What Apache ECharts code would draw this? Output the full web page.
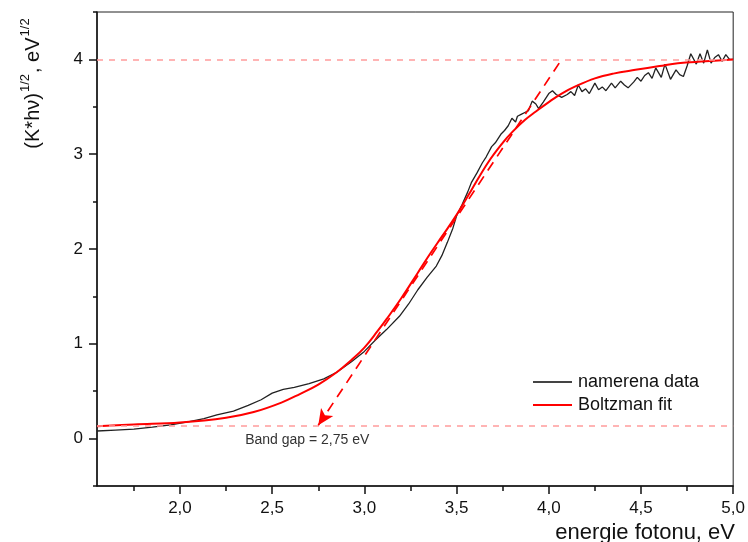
<!DOCTYPE html>
<html><head><meta charset="utf-8">
<script src="https://cdn.jsdelivr.net/npm/echarts@6/dist/echarts.min.js"></script>
<style>html,body{margin:0;padding:0;background:#fff}#c{width:748px;height:542px}</style>
</head><body><div id="c"></div>
<script>
const dataX = [1.55,1.65,1.75,1.85,1.95,2.05,2.13,2.2,2.29,2.37,2.44,2.5,2.56,2.62,2.7,2.78,2.85,2.93,3.0,3.06,3.12,3.19,3.24,3.29,3.34,3.39,3.42,3.45,3.48,3.5,3.53,3.56,3.58,3.61,3.64,3.66,3.69,3.71,3.74,3.76,3.78,3.8,3.82,3.83,3.85,3.87,3.89,3.91,3.93,3.945,3.97,4.0,4.02,4.04,4.07,4.1,4.12,4.14,4.16,4.18,4.2,4.22,4.25,4.27,4.29,4.31,4.34,4.36,4.39,4.41,4.43,4.46,4.48,4.5,4.52,4.54,4.56,4.58,4.61,4.63,4.66,4.69,4.71,4.73,4.75,4.77,4.8,4.82,4.84,4.86,4.88,4.9,4.92,4.94,4.96,4.98,5.0];
const dataY = [0.08,0.09,0.10,0.12,0.145,0.18,0.21,0.25,0.29,0.35,0.41,0.48,0.52,0.54,0.58,0.63,0.70,0.81,0.92,1.04,1.15,1.29,1.42,1.57,1.70,1.82,1.93,2.07,2.22,2.35,2.47,2.60,2.70,2.80,2.91,2.97,3.08,3.12,3.21,3.25,3.30,3.38,3.34,3.40,3.42,3.44,3.46,3.56,3.53,3.48,3.55,3.64,3.67,3.63,3.60,3.63,3.66,3.62,3.73,3.66,3.69,3.64,3.75,3.68,3.71,3.67,3.75,3.70,3.77,3.73,3.70,3.76,3.81,3.77,3.83,3.86,3.80,3.91,3.81,3.95,3.79,3.89,3.84,3.82,3.93,4.06,3.95,4.06,3.96,4.10,3.96,4.02,4.05,3.98,4.05,4.00,4.00];
const fitX = [1.55,1.75,2.0,2.25,2.4,2.55,2.65,2.75,2.85,2.93,3.0,3.07,3.12,3.2,3.29,3.36,3.42,3.5,3.58,3.67,3.75,3.8,3.87,3.93,4.0,4.07,4.15,4.25,4.35,4.47,4.6,4.7,4.85,5.0];
const fitY = [0.13,0.15,0.17,0.22,0.28,0.38,0.47,0.57,0.70,0.83,0.96,1.13,1.26,1.48,1.75,1.96,2.13,2.36,2.62,2.91,3.12,3.23,3.36,3.45,3.55,3.64,3.72,3.80,3.85,3.89,3.93,3.96,3.98,4.00];
const xTicks = [2.0,2.5,3.0,3.5,4.0,4.5,5.0];
const xMinorTicks = [1.75,2.25,2.75,3.25,3.75,4.25,4.75];
const yTicks = [0,1,2,3,4];
const yMinorTicks = [-0.5,0.5,1.5,2.5,3.5,4.5];
const plateauLevel = 4.0;
const baseLevel = 0.14;
const tangentX = [2.75, 4.07];
const tangentY = [0.14, 4.0];
const bandGapLabel = 'Band gap = 2,75 eV';
const bandGapLabelPos = [2.69, -0.02];

const FF = '"Liberation Sans", Arial, sans-serif';
const chart = echarts.init(document.getElementById('c'), null, {renderer: 'canvas'});
const pinkDash = {color: '#ff9c9c', type: [6, 6], width: 1.5};
const redDash = {color: '#ff0000', type: [10, 7], width: 1.7};
const xBase = {type: 'value', min: 1.55, max: 5.0, splitLine: {show: false}};
const yBase = {type: 'value', min: -0.5, max: 4.5, splitLine: {show: false}};
chart.setOption({
  animation: false,
  backgroundColor: '#fff',
  grid: {left: 97, right: 14, top: 12, bottom: 56, show: true, borderColor: '#222', borderWidth: 1, backgroundColor: 'transparent'},
  xAxis: [
    Object.assign({}, xBase, {position: 'bottom',
      axisLine: {show: true, onZero: false, lineStyle: {color: '#111', width: 1.5}},
      axisTick: {show: true, customValues: xTicks, length: 8, lineStyle: {color: '#111', width: 1.5}},
      axisLabel: {customValues: xTicks, fontSize: 17, color: '#111', fontFamily: FF, margin: 14,
        formatter: v => v.toFixed(1).replace('.', ',')}}),
    Object.assign({}, xBase, {position: 'bottom',
      axisLine: {show: false, onZero: false},
      axisTick: {show: true, customValues: xMinorTicks, length: 5, lineStyle: {color: '#111', width: 1.5}},
      axisLabel: {show: false}})
  ],
  yAxis: [
    Object.assign({}, yBase, {position: 'left',
      axisLine: {show: true, onZero: false, lineStyle: {color: '#111', width: 1.5}},
      axisTick: {show: true, customValues: yTicks, length: 8, lineStyle: {color: '#111', width: 1.5}},
      axisLabel: {customValues: yTicks, fontSize: 17, color: '#111', fontFamily: FF, margin: 14,
        formatter: v => String(v)}}),
    Object.assign({}, yBase, {position: 'left',
      axisLine: {show: false, onZero: false},
      axisTick: {show: true, customValues: yMinorTicks, length: 4, lineStyle: {color: '#111', width: 1.5}},
      axisLabel: {show: false}})
  ],
  legend: {
    orient: 'vertical', left: 533, top: 373, padding: 0, itemWidth: 39, itemHeight: 2, itemGap: 5,
    icon: 'rect',
    textStyle: {fontSize: 18, lineHeight: 18, color: '#111', fontFamily: FF, padding: [0, 0, 0, 1]},
    data: ['namerena data', 'Boltzman fit']
  },
  series: [
    {name: 'namerena data', type: 'line', xAxisIndex: 0, yAxisIndex: 0,
     data: dataX.map((x, i) => [x, dataY[i]]), symbol: 'none', smooth: false,
     lineStyle: {color: '#222', width: 1.3}, itemStyle: {color: '#444'}, z: 2},
    {name: 'Boltzman fit', type: 'line', xAxisIndex: 0, yAxisIndex: 0,
     data: fitX.map((x, i) => [x, fitY[i]]), symbol: 'none', smooth: 0.4,
     lineStyle: {color: '#ff0000', width: 2}, itemStyle: {color: '#ff0000'}, z: 3,
     markLine: {silent: true, symbol: 'none', label: {show: false}, animation: false,
       data: [
         {yAxis: plateauLevel, lineStyle: pinkDash},
         {yAxis: baseLevel, lineStyle: pinkDash},
         [{coord: [tangentX[0], tangentY[0]], symbol: 'arrow', symbolSize: [11, 16], lineStyle: redDash, itemStyle: {color: '#ff0000'}},
          {coord: [tangentX[1], tangentY[1]], symbol: 'none', lineStyle: redDash}]
       ]}}
  ]
});
const p = chart.convertToPixel({xAxisIndex: 0, yAxisIndex: 0}, bandGapLabelPos);
chart.setOption({
  graphic: [
    {type: 'text', x: p[0], y: p[1], silent: true,
     style: {text: bandGapLabel, fontSize: 14, fill: '#333', fontFamily: FF, align: 'center', verticalAlign: 'middle'}},
    {type: 'text', x: 31, y: 83, rotation: Math.PI / 2, silent: true,
     style: {text: '{a|(K*hν)}{s|1/2}{a|, eV}{s|1/2}', align: 'center', verticalAlign: 'middle',
       rich: {a: {fontSize: 20, fontFamily: FF, fill: '#111', lineHeight: 24, verticalAlign: 'bottom'},
              s: {fontSize: 13, fontFamily: FF, fill: '#111', lineHeight: 24, verticalAlign: 'top', padding: [0, 1, 0, 1]}}}},
    {type: 'text', x: 735, y: 544, silent: true,
     style: {text: 'energie fotonu, eV', fontSize: 22, fill: '#111', fontFamily: FF, align: 'right', verticalAlign: 'bottom'}}
  ]
});
</script></body></html>
